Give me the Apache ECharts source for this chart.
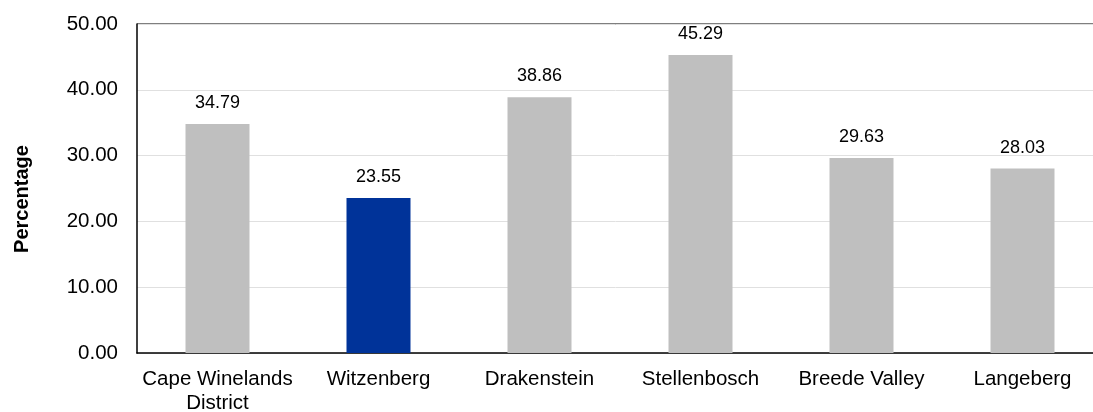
<!DOCTYPE html>
<html><head><meta charset="utf-8">
<script src="https://cdn.jsdelivr.net/npm/echarts@6/dist/echarts.min.js"></script>
<style>html,body{margin:0;padding:0;background:#fff}#c{width:1093px;height:412px}</style>
</head><body><div id="c"></div>
<script>
const categories = ["Cape Winelands\nDistrict", "Witzenberg", "Drakenstein", "Stellenbosch", "Breede Valley", "Langeberg"];
const values = [34.79, 23.55, 38.86, 45.29, 29.63, 28.03];
const highlightIndex = 1;
const yTicks = { min: 0, max: 50, interval: 10 };
const yTitle = "Percentage";

const chart = echarts.init(document.getElementById('c'), null, { renderer: 'canvas' });
const font = 'Liberation Sans, Arial, sans-serif';
chart.setOption({
  animation: false,
  grid: { left: 137, right: -10, top: 24, bottom: 59, containLabel: false, outerBoundsMode: 'none', show: false },
  xAxis: {
    type: 'category', data: categories,
    axisLine: { show: true, lineStyle: { color: '#000', width: 1.5 } },
    axisTick: { show: false },
    axisLabel: { color: '#000', fontSize: 20.5, fontFamily: font, margin: 14, lineHeight: 24, interval: 0 }
  },
  yAxis: {
    type: 'value', min: yTicks.min, max: yTicks.max, interval: yTicks.interval,
    axisLine: { show: true, lineStyle: { color: '#000', width: 1.5 } },
    axisTick: { show: false },
    splitLine: { show: true, lineStyle: { color: '#e0e0e0', width: 1 } },
    axisLabel: { color: '#000', fontSize: 20.5, fontFamily: font, margin: 19, formatter: v => v.toFixed(2) }
  },
  graphic: [
    { type: 'text', x: 22, y: 199, rotation: Math.PI / 2, style: { text: yTitle, font: 'bold 20px ' + font, fill: '#000', align: 'center', verticalAlign: 'middle' } },
    { type: 'line', shape: { x1: 137, y1: 24, x2: 1093, y2: 24 }, style: { stroke: '#555', lineWidth: 1.5 } }
  ],
  series: [{
    type: 'bar', barWidth: 64,
    data: values.map((v, i) => ({ value: v, itemStyle: { color: i === highlightIndex ? '#003399' : '#bfbfbf' } })),
    label: { show: true, position: 'top', distance: 12, color: '#000', fontSize: 18, fontFamily: font, formatter: p => p.value.toFixed(2) }
  }]
});
</script></body></html>
